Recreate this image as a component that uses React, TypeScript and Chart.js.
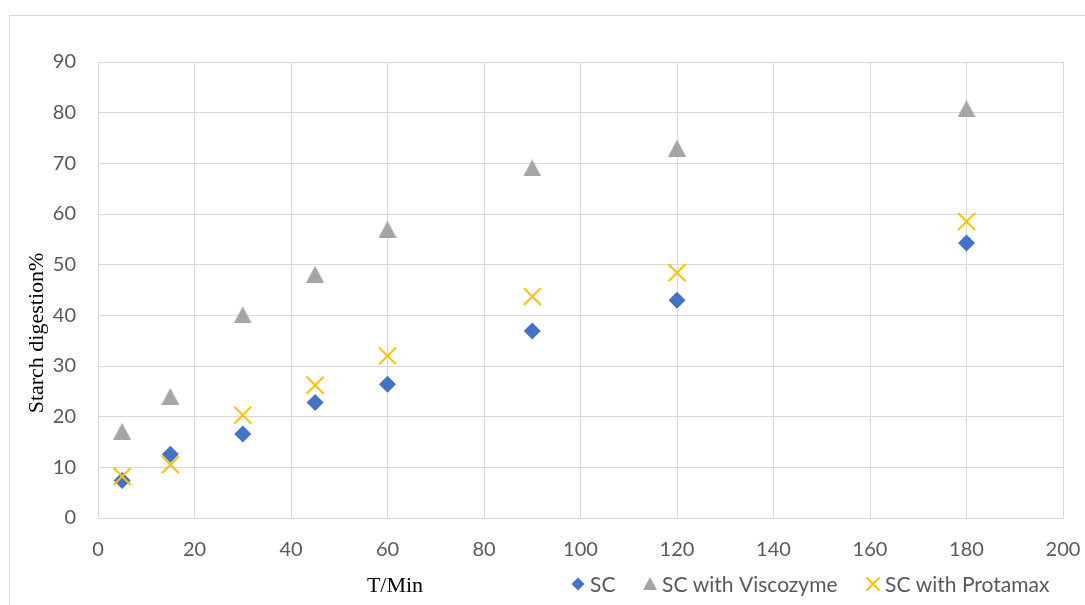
import React, { useEffect, useRef } from "react";
import { Chart, registerables } from "chart.js";

Chart.register(...registerables);

const timesMin = [5, 15, 30, 45, 60, 90, 120, 180];
const scValues = [7.4, 12.6, 16.6, 22.8, 26.4, 36.9, 43.0, 54.3];
const viscozymeValues = [17.1, 24.0, 40.1, 48.1, 57.0, 69.1, 73.0, 80.8];
const protamaxValues = [8.2, 10.5, 20.3, 26.2, 32.0, 43.7, 48.4, 58.5];
const seriesNames = ["SC", "SC with Viscozyme", "SC with Protamax"];
const seriesColors = ["#4472C4", "#A5A5A5", "#FFC000"];
const xTitle = "T/Min";
const yTitle = "Starch digestion%";

const toPoints = (ys: number[]) => timesMin.map((x, i) => ({ x, y: ys[i] }));

function makeTriangle(color: string) {
  const c = document.createElement("canvas");
  c.width = 18;
  c.height = 17;
  const g = c.getContext("2d")!;
  g.fillStyle = color;
  g.beginPath();
  g.moveTo(9, 0);
  g.lineTo(18, 17);
  g.lineTo(0, 17);
  g.closePath();
  g.fill();
  return c;
}

const decorPlugin = {
  id: "decor",
  beforeDraw(chart: any) {
    const ctx = chart.ctx;
    ctx.save();
    ctx.fillStyle = "#ffffff";
    ctx.fillRect(0, 0, chart.width, chart.height);
    ctx.strokeStyle = "#d9d9d9";
    ctx.lineWidth = 1;
    ctx.strokeRect(9.5, 15.5, chart.width + 10, chart.height + 10);
    ctx.restore();
  },
  afterDraw(chart: any) {
    const ctx = chart.ctx;
    ctx.save();
    ctx.fillStyle = "#000000";
    ctx.font = "22px 'Liberation Serif'";
    ctx.textAlign = "center";
    ctx.textBaseline = "middle";
    ctx.fillText(xTitle, 395, 586);
    ctx.save();
    ctx.translate(37, 333);
    ctx.rotate(-Math.PI / 2);
    ctx.fillText(yTitle, 0, 0);
    ctx.restore();

    const cy = 584;
    const markerX = [578, 650, 873];
    ctx.font = "21px Lato";
    ctx.textAlign = "left";
    ctx.textBaseline = "middle";
    markerX.forEach((mx, i) => {
      ctx.fillStyle = seriesColors[i];
      ctx.strokeStyle = seriesColors[i];
      ctx.beginPath();
      if (i === 0) {
        const r = 6.5;
        ctx.moveTo(mx, cy - r);
        ctx.lineTo(mx + r, cy);
        ctx.lineTo(mx, cy + r);
        ctx.lineTo(mx - r, cy);
        ctx.closePath();
        ctx.fill();
      } else if (i === 1) {
        ctx.moveTo(mx, cy - 7);
        ctx.lineTo(mx + 7, cy + 6);
        ctx.lineTo(mx - 7, cy + 6);
        ctx.closePath();
        ctx.fill();
      } else {
        ctx.lineWidth = 2;
        const h = 6.5;
        ctx.moveTo(mx - h, cy - h);
        ctx.lineTo(mx + h, cy + h);
        ctx.moveTo(mx + h, cy - h);
        ctx.lineTo(mx - h, cy + h);
        ctx.stroke();
      }
      ctx.fillStyle = "#595959";
      ctx.fillText(seriesNames[i], mx + 12, cy + 1);
    });
    ctx.restore();
  },
};

export default function App() {
  const ref = useRef<HTMLCanvasElement | null>(null);
  useEffect(() => {
    if (!ref.current) return;
    const grid = "#d9d9d9";
    const chart = new Chart(ref.current, {
      type: "scatter",
      data: {
        datasets: [
          {
            label: seriesNames[0],
            data: toPoints(scValues),
            pointStyle: "rectRot",
            pointRadius: 8.5,
            backgroundColor: seriesColors[0],
            borderColor: seriesColors[0],
            borderWidth: 0,
            order: 3,
          },
          {
            label: seriesNames[1],
            data: toPoints(viscozymeValues),
            pointStyle: makeTriangle(seriesColors[1]),
            pointRadius: 9,
            backgroundColor: seriesColors[1],
            borderColor: seriesColors[1],
            borderWidth: 0,
            order: 2,
          },
          {
            label: seriesNames[2],
            data: toPoints(protamaxValues),
            pointStyle: "crossRot",
            pointRadius: 12,
            backgroundColor: seriesColors[2],
            borderColor: seriesColors[2],
            borderWidth: 2,
            order: 1,
          },
        ],
      },
      options: {
        animation: false,
        responsive: true,
        maintainAspectRatio: false,
        layout: { padding: { left: 10, right: 22, top: 62, bottom: 40 } },
        plugins: {
          tooltip: { enabled: false },
          legend: { display: false },
        },
        scales: {
          x: {
            type: "linear",
            min: 0,
            max: 200,
            ticks: {
              stepSize: 20,
              padding: 20,
              color: "#595959",
              font: { family: "Lato", size: 20 },
            },
            grid: { color: grid, drawTicks: false, lineWidth: 1 },
            border: { color: grid },
            afterFit: (s: any) => {
              s.height = 47;
              s.paddingRight = 0;
              s.paddingLeft = 0;
            },
          },
          y: {
            type: "linear",
            min: 0,
            max: 90,
            ticks: {
              stepSize: 10,
              padding: 22,
              color: "#595959",
              font: { family: "Lato", size: 20 },
            },
            grid: { color: grid, drawTicks: false, lineWidth: 1 },
            border: { color: grid },
            afterFit: (s: any) => {
              s.width = 88;
              s.paddingTop = 0;
              s.paddingBottom = 0;
            },
          },
        },
      },
      plugins: [decorPlugin],
    } as any);
    return () => chart.destroy();
  }, []);
  return (
    <div style={{ position: "fixed", left: 0, top: 0, width: 1085, height: 605 }}>
      <canvas ref={ref} />
    </div>
  );
}
